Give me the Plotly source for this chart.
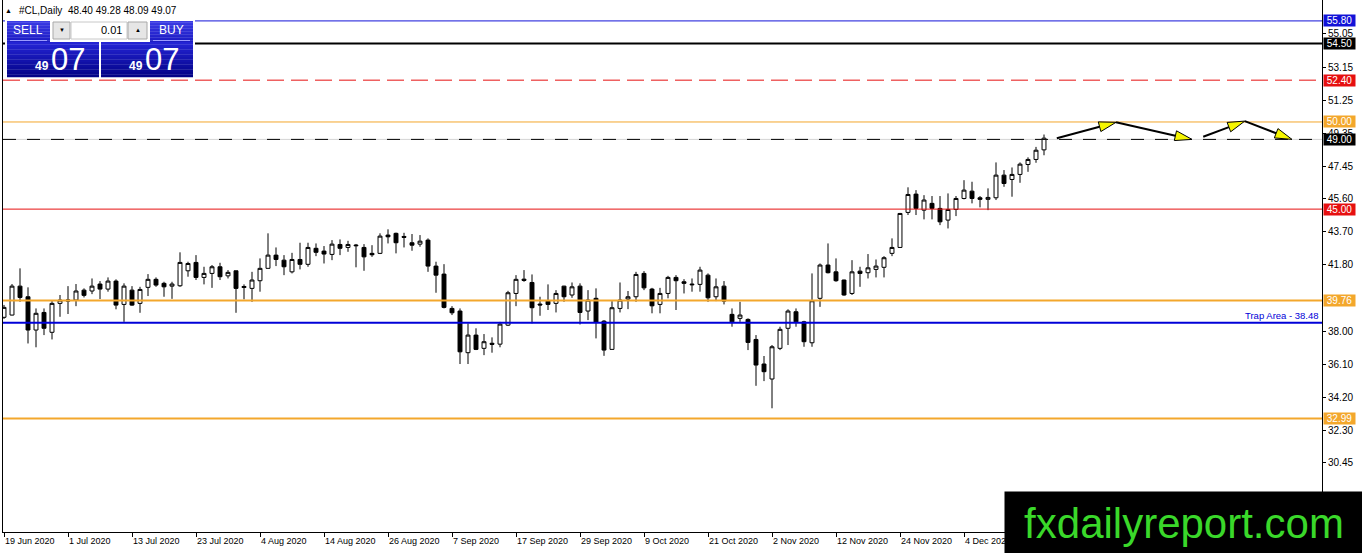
import math
import pandas as pd
import plotly.graph_objects as go

# ---------------- data ----------------
DATES = pd.bdate_range("2020-06-19", "2020-12-18")  # 131 daily bars

OPEN = [38.79, 38.92, 40.58, 39.97, 38.06, 39.07, 37.93, 39.59, 39.72, 39.78,
        40.35, 40.30, 40.70, 40.41, 40.87, 39.53, 40.35, 39.59, 40.51, 40.97,
        40.74, 40.58, 40.60, 41.46, 41.94, 41.08, 41.31, 41.69, 41.17, 41.46,
        40.50, 40.45, 40.89, 41.60, 42.36, 42.07, 41.40, 42.11, 41.83, 42.75,
        42.59, 42.40, 42.97, 42.80, 42.94, 42.80, 42.46, 42.46, 43.51, 43.61,
        43.43, 43.07, 42.99, 43.22, 41.73, 41.27, 39.30, 39.15, 36.76, 37.77,
        37.01, 37.30, 37.25, 38.34, 40.16, 40.98, 40.79, 39.55, 39.72, 39.59,
        40.58, 40.07, 40.58, 39.15, 39.88, 38.57, 36.95, 39.30, 39.84, 39.97,
        41.31, 40.41, 39.53, 40.16, 41.08, 40.83, 40.70, 40.68, 41.21, 39.97,
        40.58, 38.96, 38.73, 38.67, 37.52, 36.11, 35.25, 37.01, 38.16, 39.11,
        38.53, 37.33, 39.88, 41.79, 41.40, 40.93, 40.16, 41.44, 41.35, 41.54,
        41.66, 42.46, 42.80, 44.81, 45.86, 44.94, 45.33, 45.04, 44.37, 44.98,
        45.61, 46.03, 45.65, 45.56, 45.65, 46.95, 46.70, 46.99, 47.56, 47.85,
        48.40]
HIGH = [39.50, 40.70, 41.60, 40.51, 39.30, 39.30, 39.72, 40.07, 40.58, 40.70,
        40.45, 41.02, 40.87, 41.08, 40.97, 40.74, 40.58, 40.54, 41.27, 41.08,
        40.83, 40.83, 42.52, 41.98, 42.36, 41.69, 41.79, 41.92, 41.50, 41.46,
        40.68, 41.40, 42.17, 43.61, 42.80, 42.36, 42.49, 43.07, 43.07, 43.03,
        42.88, 43.22, 43.26, 43.18, 43.00, 42.99, 42.93, 43.61, 43.84, 43.65,
        43.64, 43.57, 43.51, 43.32, 41.98, 41.84, 39.43, 39.30, 38.44, 38.16,
        37.83, 37.64, 38.53, 40.31, 41.21, 41.50, 41.25, 39.97, 40.68, 40.35,
        40.60, 40.79, 40.74, 40.35, 40.45, 38.63, 39.72, 40.79, 40.30, 41.40,
        41.44, 40.48, 40.48, 41.17, 41.21, 40.98, 41.02, 41.69, 41.31, 41.02,
        40.87, 39.30, 39.68, 38.73, 37.77, 36.57, 37.20, 38.25, 39.25, 39.30,
        38.59, 41.31, 41.88, 43.03, 42.17, 40.95, 42.07, 41.69, 42.42, 42.11,
        42.30, 43.32, 44.78, 46.25, 46.09, 45.80, 45.75, 45.75, 45.90, 45.75,
        46.66, 46.57, 45.75, 46.19, 47.68, 47.24, 47.39, 47.68, 47.97, 48.57,
        49.28]
LOW = [38.70, 38.90, 39.68, 37.29, 37.07, 37.77, 37.52, 38.82, 38.98, 39.43,
       39.93, 40.12, 39.84, 40.26, 39.25, 38.53, 39.45, 39.05, 40.01, 40.54,
       39.97, 39.85, 40.54, 41.12, 40.93, 40.68, 40.48, 40.93, 41.02, 39.05,
       39.82, 39.68, 40.26, 41.60, 41.73, 41.21, 41.31, 41.54, 41.69, 42.30,
       41.88, 42.07, 42.36, 42.55, 41.66, 41.46, 42.26, 42.42, 43.03, 42.46,
       42.80, 42.61, 42.84, 41.40, 40.20, 39.30, 38.92, 36.11, 36.11, 36.91,
       36.62, 36.76, 37.07, 38.29, 39.43, 40.83, 38.44, 38.88, 39.21, 39.07,
       39.68, 39.91, 38.38, 38.63, 37.58, 36.58, 36.95, 39.07, 39.26, 39.68,
       40.35, 39.02, 39.02, 39.88, 39.21, 40.16, 40.26, 40.26, 39.68, 39.72,
       39.53, 38.25, 38.53, 36.91, 34.86, 35.13, 33.57, 36.91, 37.20, 38.25,
       37.10, 37.10, 39.39, 41.31, 40.83, 40.03, 40.07, 40.54, 41.02, 41.08,
       41.08, 42.30, 42.78, 44.66, 44.66, 44.41, 44.41, 44.08, 43.89, 44.60,
       45.56, 45.33, 45.10, 44.94, 45.52, 46.28, 45.71, 46.51, 47.14, 47.66,
       48.09]
CLOSE = [39.36, 40.58, 39.93, 38.06, 39.02, 38.16, 39.59, 39.78, 39.78, 40.30,
         40.05, 40.58, 40.41, 40.87, 39.49, 40.58, 39.49, 40.39, 40.97, 40.64,
         40.54, 40.70, 41.94, 41.88, 41.08, 41.31, 41.69, 41.12, 41.37, 40.45,
         40.56, 40.93, 41.60, 42.36, 42.11, 41.69, 42.11, 41.83, 42.80, 42.52,
         42.42, 42.99, 42.75, 42.97, 42.90, 42.26, 42.38, 43.45, 43.41, 43.07,
         43.38, 42.93, 43.16, 41.73, 41.21, 39.36, 39.05, 36.81, 37.77, 36.95,
         37.39, 37.24, 38.40, 40.20, 40.97, 40.91, 39.34, 39.50, 39.53, 40.16,
         39.97, 40.54, 39.07, 39.78, 38.50, 36.91, 39.34, 39.78, 39.97, 41.25,
         40.48, 39.45, 40.16, 41.08, 40.89, 40.74, 40.66, 41.50, 39.91, 40.54,
         39.72, 38.53, 38.92, 37.35, 36.05, 35.67, 37.10, 38.10, 39.15, 38.53,
         37.39, 39.74, 41.79, 41.35, 40.89, 40.07, 41.40, 41.31, 41.63, 41.73,
         42.21, 42.80, 44.75, 45.84, 45.04, 45.52, 45.04, 44.27, 44.98, 45.61,
         46.09, 45.61, 45.56, 45.67, 46.95, 46.47, 46.99, 47.58, 47.85, 48.38,
         49.07]

SYMBOL = "#CL,Daily"
Y_TICKS = [55.05, 53.15, 51.25, 49.35, 47.45, 45.60, 43.70, 41.80,
           38.00, 36.10, 34.20, 32.30, 30.45]
X_TICK_STEP = 8

LEVEL_VALUES = [55.80, 54.50, 52.40, 50.00, 49.00, 45.00, 39.76, 38.48, 32.99]
TRAP_VALUE = 38.48
TRAP_TEXT = "Trap Area - 38.48"

# projected path (bar index, price)
ARROW_PATHS = [
    [(131.6, 49.07), (139.0, 49.98), (148.5, 49.00)],
    [(149.9, 49.15), (155.1, 50.05), (161.0, 49.00)],
]

WATERMARK = "fxdailyreport.com"

# ---------------- styles / layout ----------------
W, H = 1362, 553
ML, MR, MT, MB = 3, 40, 0, 21
PW, PH = W - ML - MR, H - MT - MB
X_RANGE = [-0.125, 164.75]
Y_RANGE = [26.47, 57.0]
FONT = "Liberation Sans"

BLUE = "#1212d8"
RED = "#e61010"
ORANGE = "#f3a72c"
LEVEL_STYLE = {
    55.80: (BLUE, 1, "solid", True),
    54.50: ("#000000", 2, "solid", True),
    52.40: (RED, 1, "17px,7px", True),
    50.00: (ORANGE, 1, "solid", True),
    49.00: ("#000000", 1, "13px,11px", True),
    45.00: (RED, 1, "solid", True),
    39.76: (ORANGE, 2, "solid", True),
    38.48: ("#0000d8", 2, "solid", False),
    32.99: (ORANGE, 2, "solid", True),
}


def fx(px):
    return (px - ML) / PW


def fy(py):
    return (H - MB - py) / PH


def to_px(xv, yv):
    px = ML + (xv - X_RANGE[0]) / (X_RANGE[1] - X_RANGE[0]) * PW
    py = MT + (Y_RANGE[1] - yv) / (Y_RANGE[1] - Y_RANGE[0]) * PH
    return px, py


idx = list(range(len(DATES)))
fig = go.Figure()
fig.add_trace(go.Candlestick(
    x=idx, open=OPEN, high=HIGH, low=LOW, close=CLOSE,
    increasing=dict(line=dict(color="#000000", width=1), fillcolor="#ffffff"),
    decreasing=dict(line=dict(color="#000000", width=1), fillcolor="#000000"),
    whiskerwidth=0, showlegend=False, hoverinfo="skip",
))

shapes = []
annotations = []

# horizontal levels
for v in LEVEL_VALUES:
    col, wd, dash, lab = LEVEL_STYLE[v]
    if v == 49.00:
        shapes.append(dict(type="line", xref="paper", x0=0, x1=1, yref="y", y0=v, y1=v,
                           line=dict(color="#d4d4d4", width=1), layer="above"))
    shapes.append(dict(type="line", xref="paper", x0=0, x1=1, yref="y", y0=v, y1=v,
                       line=dict(color=col, width=wd, dash=dash), layer="above"))
    if lab:
        annotations.append(dict(xref="paper", x=1, xanchor="left", xshift=1,
                                yref="y", y=v, yanchor="middle",
                                text=f"{v:.2f}", showarrow=False,
                                bgcolor=col, borderpad=0, width=31, height=11,
                                font=dict(family=FONT, size=10, color="#ffffff")))

annotations.append(dict(xref="paper", x=1, xanchor="right", xshift=-1,
                        yref="y", y=TRAP_VALUE, yanchor="bottom", yshift=0,
                        text=TRAP_TEXT, showarrow=False,
                        font=dict(family=FONT, size=9.5, color="#0000d8")))

# arrows
for path in ARROW_PATHS:
    for (x0, y0), (x1, y1) in zip(path[:-1], path[1:]):
        p0 = to_px(x0, y0)
        p1 = to_px(x1, y1)
        dx, dy = p1[0] - p0[0], p1[1] - p0[1]
        ln = math.hypot(dx, dy)
        ux, uy = dx / ln, dy / ln
        nx, ny = -uy, ux
        L, hw = 17, 5
        b = (p1[0] - ux * L, p1[1] - uy * L)
        shapes.append(dict(type="line", xref="paper", yref="paper",
                           x0=fx(p0[0]), y0=fy(p0[1]), x1=fx(b[0]), y1=fy(b[1]),
                           line=dict(color="#000000", width=2), layer="above"))
        v1 = (b[0] + nx * hw, b[1] + ny * hw)
        v2 = (b[0] - nx * hw, b[1] - ny * hw)
        path_s = (f"M {fx(p1[0])},{fy(p1[1])} L {fx(v1[0])},{fy(v1[1])} "
                  f"L {fx(v2[0])},{fy(v2[1])} Z")
        shapes.append(dict(type="path", xref="paper", yref="paper", path=path_s,
                           fillcolor="#f5f500", line=dict(color="#000000", width=1),
                           layer="above"))


# trading panel (top-left)
def hexrgb(h):
    return tuple(int(h[i:i + 2], 16) for i in (1, 3, 5))


def grad_rect(x0, y0, x1, y1, ctop, cbot, n=14):
    a, b = hexrgb(ctop), hexrgb(cbot)
    for k in range(n):
        t = k / (n - 1)
        c = tuple(round(a[j] + (b[j] - a[j]) * t) for j in range(3))
        ya = y0 + (y1 - y0) * k / n
        yb = y0 + (y1 - y0) * (k + 1) / n
        shapes.append(dict(type="rect", xref="paper", yref="paper",
                           x0=fx(x0), x1=fx(x1), y0=fy(ya), y1=fy(yb + 0.3),
                           fillcolor=f"rgb({c[0]},{c[1]},{c[2]})",
                           line=dict(width=0), layer="above"))


def rect(x0, y0, x1, y1, fill, line=None):
    shapes.append(dict(type="rect", xref="paper", yref="paper",
                       x0=fx(x0), x1=fx(x1), y0=fy(y0), y1=fy(y1),
                       fillcolor=fill,
                       line=dict(color=line or fill, width=1 if line else 0),
                       layer="above"))


def text(px, py, s, size, color, anchor="center", bold=False):
    annotations.append(dict(xref="paper", yref="paper", x=fx(px), y=fy(py),
                            xanchor=anchor, yanchor="middle",
                            text=f"<b>{s}</b>" if bold else s, showarrow=False,
                            font=dict(family=FONT, size=size, color=color)))


rect(5, 19, 195, 79, "#ffffff")
rect(50, 21, 150, 42, "#ffffff")
grad_rect(7, 21, 50, 42, "#3a3ae4", "#1c1cc4")
grad_rect(150, 21, 193, 42, "#3a3ae4", "#1c1cc4")
grad_rect(7, 42, 99, 77, "#2424d4", "#030388")
grad_rect(101, 42, 193, 77, "#2424d4", "#030388")
shapes.append(dict(type="line", xref="paper", yref="paper", x0=fx(10), x1=fx(47),
                   y0=fy(40.5), y1=fy(40.5), line=dict(color="#9a9aff", width=1),
                   layer="above"))
shapes.append(dict(type="line", xref="paper", yref="paper", x0=fx(153), x1=fx(190),
                   y0=fy(40.5), y1=fy(40.5), line=dict(color="#9a9aff", width=1),
                   layer="above"))
rect(53, 22, 70, 39, "#e6e6e6", "#a8a8a8")
rect(71, 22, 127, 39, "#ffffff", "#c8c8c8")
rect(128, 22, 147, 39, "#e6e6e6", "#a8a8a8")

price_str = f"{CLOSE[-1]:.2f}"
big_part = price_str[-2:]
small_part = price_str.split(".")[0]

text(28, 30, "SELL", 12, "#ffffff")
text(171, 30, "BUY", 12, "#ffffff")
text(124, 30.5, "0.01", 11, "#000000", anchor="right")
text(61.5, 30, "▼", 6, "#000000")
text(137.5, 30, "▲", 6, "#000000")
text(42, 66, small_part, 12, "#ffffff", bold=True)
text(68, 59.5, big_part, 31, "#ffffff")
text(136, 66, small_part, 12, "#ffffff", bold=True)
text(162, 59.5, big_part, 31, "#ffffff")

# header line
text(8.5, 11, "▲", 7, "#000000")
text(17, 11, f"{SYMBOL}  {OPEN[-1]:.2f} {HIGH[-1]:.2f} {LOW[-1]:.2f} {CLOSE[-1]:.2f}",
     10, "#000000", anchor="left")

# watermark
annotations.append(dict(xref="paper", yref="paper", x=fx(1004), y=fy(490.5),
                        xanchor="left", yanchor="top", text=WATERMARK,
                        showarrow=False, bgcolor="#000000", borderpad=0,
                        width=358, height=63, align="center",
                        font=dict(family=FONT, size=42, color="#3ad82a")))

tick_idx = list(range(0, len(DATES), X_TICK_STEP))
tick_txt = [f"{DATES[i].day} {DATES[i].strftime('%b %Y')}" for i in tick_idx]

fig.update_layout(
    width=W, height=H,
    margin=dict(l=ML, r=MR, t=MT, b=MB, pad=0),
    paper_bgcolor="#ffffff", plot_bgcolor="#ffffff",
    hovermode=False, showlegend=False,
    shapes=shapes, annotations=annotations,
    boxgap=0.3, boxgroupgap=0.3,
    xaxis=dict(range=X_RANGE, type="linear", rangeslider=dict(visible=False),
               tickvals=tick_idx, ticktext=tick_txt, ticks="outside", ticklen=4,
               tickcolor="#000000", ticklabelposition="outside right",
               tickfont=dict(family=FONT, size=9, color="#000000"),
               showline=True, linecolor="#000000", linewidth=1, mirror=True,
               showgrid=False, zeroline=False, fixedrange=True),
    yaxis=dict(range=Y_RANGE, side="right", tickvals=Y_TICKS,
               ticktext=[f"{t:.2f}" for t in Y_TICKS], ticks="outside", ticklen=3,
               tickcolor="#000000",
               tickfont=dict(family=FONT, size=10, color="#000000"),
               showline=True, linecolor="#000000", linewidth=1, mirror=True,
               showgrid=False, zeroline=False, fixedrange=True),
)

fig.write_html(
    "out.html",
    config={"displayModeBar": False, "staticPlot": True},
    post_script="document.body.style.margin='0';document.body.style.overflow='hidden';",
)
